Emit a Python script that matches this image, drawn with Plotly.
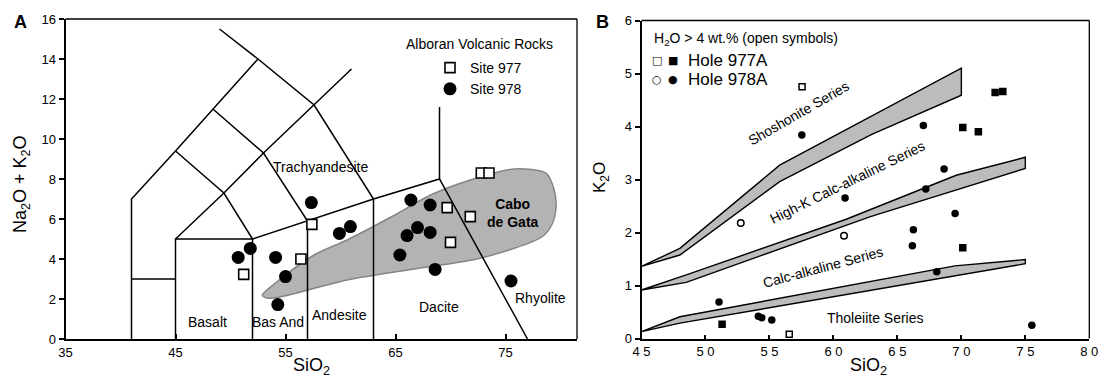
import plotly.graph_objects as go

W, H = 1099, 379
FONT = "Liberation Sans, Arial, sans-serif"

# ---------------- Panel A data (TAS diagram) ----------------
site977_sio2 = [51.2, 56.4, 57.4, 69.7, 71.8, 70.0, 72.8, 73.5]
site977_alk = [3.23, 4.0, 5.73, 6.57, 6.12, 4.83, 8.3, 8.3]
site978_sio2 = [50.7, 51.8, 54.1, 55.0, 54.3, 57.35, 59.9, 60.9, 66.4, 68.15,
                67.0, 66.05, 68.15, 65.4, 68.6, 75.5]
site978_alk = [4.08, 4.53, 4.08, 3.12, 1.72, 6.82, 5.28, 5.62, 6.95, 6.7,
               5.57, 5.17, 5.33, 4.2, 3.48, 2.9]

# TAS field boundaries (polylines)
tas_boundaries = [
    ([41, 41, 45, 48.4, 52.5, 57.6, 63], [0, 7, 9.4, 11.5, 14, 11.7, 7]),
    ([49, 52.5], [15.5, 14]),
    ([41, 45], [3, 3]),
    ([45, 45, 52, 57, 63, 69, 77], [0, 5, 5, 5.9, 7, 8, 0]),
    ([52, 52], [0, 5]),
    ([57, 57], [0, 5.9]),
    ([63, 63], [0, 7]),
    ([45, 49.4, 53, 57.6, 61], [5, 7.3, 9.3, 11.7, 13.5]),
    ([45, 49.4, 52], [9.4, 7.3, 5]),
    ([48.4, 53, 57], [11.5, 9.3, 5.9]),
    ([69, 69], [8, 11.6]),
]

# Cabo de Gata field outline
gata_sio2 = [52.9, 54.2, 57.6, 60.6, 64.6, 68.2, 71.8, 75.8, 78.7, 79.4, 79.6,
             79.2, 78.3, 72.8, 66.7, 60.6, 54.5, 53.3, 52.9]
gata_alk = [2.2, 2.85, 4.2, 4.95, 6.1, 7.2, 7.95, 8.5, 8.28, 7.5, 6.6,
            5.7, 5.1, 4.05, 3.5, 2.95, 2.1, 2.05, 2.2]

tas_labels = ["Basalt", "Bas And", "Andesite", "Dacite", "Rhyolite", "Trachyandesite"]
tas_label_x = [47.95, 54.35, 59.9, 68.98, 78.18, 58.14]
tas_label_y = [0.87, 0.87, 1.2, 1.62, 2.03, 8.6]

# ---------------- Panel B data (K2O vs SiO2) ----------------
h977_open_sio2 = [57.55, 56.55]
h977_open_k2o = [4.75, 0.08]
h977_fill_sio2 = [72.64, 73.24, 70.11, 71.33, 70.11, 51.3]
h977_fill_k2o = [4.64, 4.66, 3.98, 3.9, 1.71, 0.27]
h978_open_sio2 = [52.76, 60.83]
h978_open_k2o = [2.18, 1.94]
h978_fill_sio2 = [57.53, 60.91, 51.06, 54.13, 54.4, 55.18, 67.03, 68.65,
                  67.22, 69.51, 66.25, 66.17, 68.08, 75.51]
h978_fill_k2o = [3.84, 2.65, 0.69, 0.42, 0.39, 0.35, 4.02, 3.2,
                 2.82, 2.36, 2.05, 1.75, 1.26, 0.25]

# Series boundary bands
sho_upper_x = [45, 48, 55.8, 70]
sho_upper_y = [1.36, 1.70, 3.27, 5.10]
sho_lower_x = [45, 48, 55.8, 63, 70]
sho_lower_y = [1.36, 1.575, 2.96, 3.85, 4.59]
hk_upper_x = [45, 48.5, 61, 69.6, 75]
hk_upper_y = [0.915, 1.2, 2.25, 3.08, 3.42]
hk_lower_x = [45, 48.5, 62.9, 75]
hk_lower_y = [0.915, 1.06, 2.3, 3.21]
ca_upper_x = [45, 48, 69.5, 75]
ca_upper_y = [0.13, 0.41, 1.37, 1.49]
ca_lower_x = [45, 48, 75]
ca_lower_y = [0.13, 0.29, 1.41]

series_labels = ["Shoshonite Series", "High-K Calc-alkaline Series",
                 "Calc-alkaline Series", "Tholeiite Series"]
series_label_x = [57.3, 61.1, 59.2, 63.3]
series_label_y = [4.25, 2.96, 1.35, 0.39]
series_label_angle = [-30, -26, -15, 0]

b_xticks = [45, 50, 55, 60, 65, 70, 75, 80]


def px(x):
    return x / W


def py(y):
    return 1 - y / H


def paper_text(text, x, y, size, xanchor="center", angle=0, family=FONT):
    return dict(text=text, x=px(x), y=py(y), xref="paper", yref="paper",
                showarrow=False, xanchor=xanchor, yanchor="middle", textangle=angle,
                font=dict(family=family, size=size, color="black"))


fig = go.Figure()

# ---- Panel A ----
fig.add_trace(go.Scatter(x=gata_sio2, y=gata_alk, mode="lines", fill="toself",
                         line=dict(color="#858585", width=1.5, shape="spline", smoothing=0.8),
                         fillcolor="#b3b3b3", showlegend=False, hoverinfo="skip",
                         xaxis="x", yaxis="y"))
lx, ly = [], []
for xs, ys in tas_boundaries:
    lx += list(xs) + [None]
    ly += list(ys) + [None]
fig.add_trace(go.Scatter(x=lx, y=ly, mode="lines", line=dict(color="black", width=1.5),
                         showlegend=False, hoverinfo="skip", xaxis="x", yaxis="y"))
fig.add_trace(go.Scatter(x=site977_sio2, y=site977_alk, mode="markers", name="Site 977",
                         marker=dict(symbol="square", size=10, color="white",
                                     line=dict(color="black", width=1.6)),
                         xaxis="x", yaxis="y", legend="legend"))
fig.add_trace(go.Scatter(x=site978_sio2, y=site978_alk, mode="markers", name="Site 978",
                         marker=dict(symbol="circle", size=13, color="black",
                                     line=dict(width=0)),
                         xaxis="x", yaxis="y", legend="legend"))

# ---- Panel B ----
for ux, uy, lwx, lwy in [(sho_upper_x, sho_upper_y, sho_lower_x, sho_lower_y),
                         (hk_upper_x, hk_upper_y, hk_lower_x, hk_lower_y),
                         (ca_upper_x, ca_upper_y, ca_lower_x, ca_lower_y)]:
    bx = list(ux) + list(lwx[::-1]) + [ux[0]]
    by = list(uy) + list(lwy[::-1]) + [uy[0]]
    fig.add_trace(go.Scatter(x=bx, y=by, mode="lines", fill="toself", fillcolor="#bcbcbc",
                             line=dict(color="black", width=1.4), showlegend=False,
                             hoverinfo="skip", xaxis="x2", yaxis="y2"))

fig.add_trace(go.Scatter(x=h977_open_sio2, y=h977_open_k2o, mode="markers",
                         marker=dict(symbol="square", size=6, color="white",
                                     line=dict(color="black", width=1.5)),
                         showlegend=False, xaxis="x2", yaxis="y2"))
fig.add_trace(go.Scatter(x=h977_fill_sio2, y=h977_fill_k2o, mode="markers",
                         marker=dict(symbol="square", size=7.5, color="black", line=dict(width=0)),
                         showlegend=False, xaxis="x2", yaxis="y2"))
fig.add_trace(go.Scatter(x=h978_open_sio2, y=h978_open_k2o, mode="markers",
                         marker=dict(symbol="circle", size=6.5, color="white",
                                     line=dict(color="black", width=1.5)),
                         showlegend=False, xaxis="x2", yaxis="y2"))
fig.add_trace(go.Scatter(x=h978_fill_sio2, y=h978_fill_k2o, mode="markers",
                         marker=dict(symbol="circle", size=7.5, color="black", line=dict(width=0)),
                         showlegend=False, xaxis="x2", yaxis="y2"))

axis_common = dict(showgrid=False, zeroline=False, showline=True, linecolor="black",
                   linewidth=2, tickcolor="black", tickwidth=1.5, automargin=False,
                   tickfont=dict(family=FONT, size=13, color="black"))

annotations = []
# Panel A texts
for t, x, y in zip(tas_labels, tas_label_x, tas_label_y):
    annotations.append(dict(text=t, x=x, y=y, xref="x", yref="y", showarrow=False,
                            xanchor="center", yanchor="middle",
                            font=dict(family=FONT, size=14, color="black")))
annotations.append(dict(text="<b>Cabo<br>de Gata</b>", x=75.65, y=6.28, xref="x", yref="y",
                        showarrow=False, xanchor="center", yanchor="middle",
                        font=dict(family=FONT, size=14, color="black")))
annotations.append(paper_text("Alboran Volcanic Rocks", 479, 44.3, 14))
annotations.append(paper_text("<b>A</b>", 20, 22, 18))
annotations.append(paper_text("SiO<sub>2</sub>", 311, 366, 18))
annotations.append(paper_text("Na<sub>2</sub>O + K<sub>2</sub>O", 22, 184, 18, angle=-90))
# Panel B texts
for t, x, y, a in zip(series_labels, series_label_x, series_label_y, series_label_angle):
    annotations.append(dict(text=t, x=x, y=y, xref="x2", yref="y2", showarrow=False,
                            xanchor="center", yanchor="middle", textangle=a,
                            font=dict(family=FONT, size=14, color="black")))
annotations.append(paper_text("<b>B</b>", 602.5, 22, 18))
annotations.append(paper_text("SiO<sub>2</sub>", 868, 366, 18))
annotations.append(paper_text("K<sub>2</sub>O", 601, 178, 17, angle=-90))
annotations.append(paper_text("H<sub>2</sub>O > 4 wt.% (open symbols)", 652, 38.5, 14,
                              xanchor="left"))
for glyph, gx, gy in [("□", 657.3, 61), ("■", 673.3, 61), ("○", 657.3, 80), ("●", 673.3, 80)]:
    annotations.append(paper_text(glyph, gx, gy, 11, family="DejaVu Sans"))
for t, ty in [("Hole 977A", 61), ("Hole 978A", 80)]:
    annotations.append(paper_text(t, 686, ty, 17, xanchor="left"))

shapes = []
for xr, yr in [("x domain", "y domain"), ("x2 domain", "y2 domain")]:
    shapes.append(dict(type="line", xref=xr, yref=yr, x0=0, x1=1, y0=1, y1=1,
                       line=dict(color="black", width=1.3)))
    shapes.append(dict(type="line", xref=xr, yref=yr, x0=1, x1=1, y0=0, y1=1,
                       line=dict(color="black", width=1.3)))

fig.update_layout(
    width=W, height=H, margin=dict(l=0, r=0, t=0, b=0, pad=0, autoexpand=False),
    paper_bgcolor="white", plot_bgcolor="white",
    font=dict(family=FONT, color="black"),
    xaxis=dict(domain=[px(65.5), px(577)], range=[35, 81.5], anchor="y",
               tickvals=[35, 45, 55, 65, 75], ticks="inside", ticklen=5, **axis_common),
    yaxis=dict(domain=[py(339), py(19)], range=[0, 16], anchor="x", dtick=2,
               ticks="outside", ticklen=5, **axis_common),
    xaxis2=dict(domain=[px(641.5), px(1089.3)], range=[45, 80], anchor="y2",
                tickvals=b_xticks, ticktext=[" ".join(str(v)) for v in b_xticks],
                ticks="inside", ticklen=4, **axis_common),
    yaxis2=dict(domain=[py(338.5), py(20.5)], range=[0, 6], anchor="x2", dtick=1,
                ticks="outside", ticklen=5, **axis_common),
    legend=dict(x=px(430), y=py(52), xanchor="left", yanchor="top",
                bgcolor="rgba(0,0,0,0)", font=dict(family=FONT, size=14, color="black"),
                itemsizing="trace", tracegroupgap=0),
    annotations=annotations,
    shapes=shapes,
    showlegend=True,
)

fig.write_html("out.html", config={"displayModeBar": False},
               post_script="document.body.style.margin='0';document.body.style.overflow='hidden';")
